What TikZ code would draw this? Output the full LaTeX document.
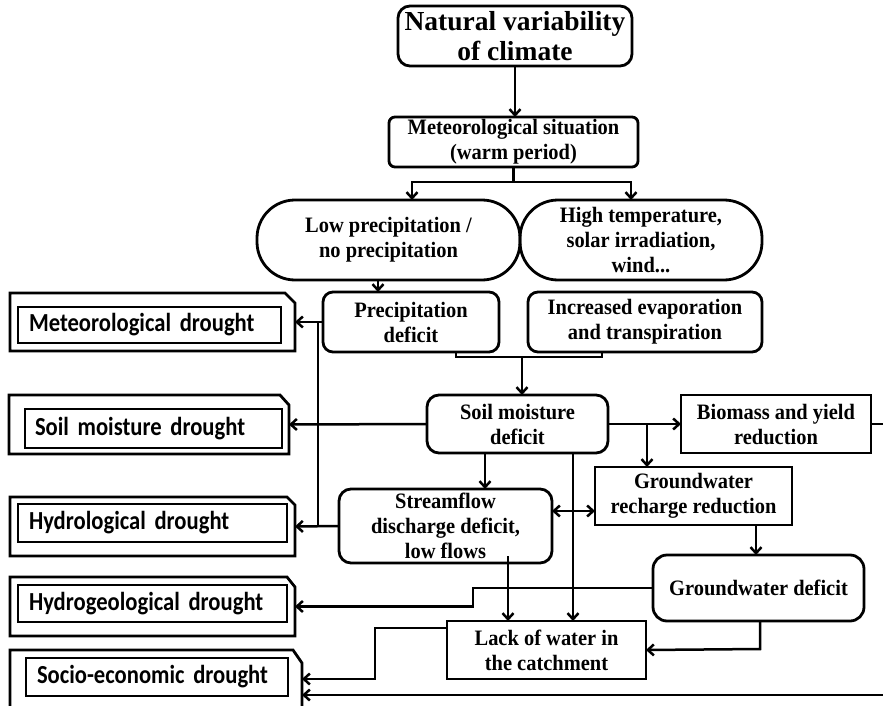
\documentclass[tikz,border=0pt]{standalone}
\usepackage{fontspec}
\setmainfont{Liberation Serif}[FakeStretch=0.93]
\newfontfamily\titlefont{Liberation Serif}
\newfontfamily\carl{Carlito}[FakeStretch=0.87, WordSpace=0.75]
\usetikzlibrary{arrows.meta}
\begin{document}
\begin{tikzpicture}[x=1pt,y=-1pt,
  every node/.style={inner sep=0pt, outer sep=0pt},
  bx/.style={draw, line width=2.8pt, align=center, font=\bfseries\fontsize{22}{25}\selectfont},
  ln/.style={line width=2.5pt},
  arr/.style={ln, -{Straight Barb[length=6pt,width=11pt]}},
  darr/.style={ln, {Straight Barb[length=6pt,width=11pt]}-{Straight Barb[length=6pt,width=11pt]}},
  obox/.style={line width=2.8pt},
  ibox/.style={draw, line width=1.4pt, align=left, inner xsep=11pt, font=\carl\bfseries\fontsize{26}{28}\selectfont}
]
\useasboundingbox (0,0) rectangle (883,706);
\clip (0,0) rectangle (883,706);

% main nodes
\node[bx, rounded corners=12pt, minimum width=234, minimum height=60, font=\titlefont\bfseries\fontsize{27.5}{30}\selectfont] (nat) at (515,36) {Natural variability\\of climate};
\node[bx, rounded corners=6pt, minimum width=249, minimum height=50] (met) at (513.5,142) {Meteorological situation\\(warm period)};
\node[bx, rounded corners=38pt, minimum width=263, minimum height=80] (low) at (388.5,240) {Low precipitation /\\no precipitation};
\node[bx, rounded corners=38pt, minimum width=242, minimum height=80] (high) at (641,240) {High temperature,\\solar irradiation,\\wind...};
\node[bx, rounded corners=10pt, minimum width=176, minimum height=60] (pre) at (411,322) {Precipitation\\deficit};
\node[bx, rounded corners=10pt, minimum width=234, minimum height=60] (eva) at (645,322) {Increased evaporation\\and transpiration};
\node[bx, rounded corners=12pt, minimum width=181, minimum height=58] (soil) at (517.5,424) {Soil moisture\\deficit};
\node[bx, minimum width=190, minimum height=58] (bio) at (776,424) {Biomass and yield\\reduction};
\node[bx, minimum width=197, minimum height=58] (gwr) at (693.5,496) {Groundwater\\recharge reduction};
\node[bx, rounded corners=12pt, minimum width=213, minimum height=74] (str) at (445.5,526) {Streamflow\\discharge deficit,\\low flows};
\node[bx, rounded corners=14pt, minimum width=211, minimum height=66] (gwd) at (758.5,588) {Groundwater deficit};
\node[bx, minimum width=199, minimum height=58] (lack) at (546.5,650) {Lack of water in\\the catchment};

% left drought boxes (outer frames)
\node[minimum width=285, minimum height=58] (md) at (152.5,322) {};
\node[minimum width=280, minimum height=59] (sd) at (149,424.5) {};
\node[minimum width=285, minimum height=59] (hd) at (152.5,526.5) {};
\node[minimum width=285, minimum height=59] (hgd) at (152.5,606.5) {};
\node[minimum width=292, minimum height=70] (se) at (156,685) {};
\foreach \n/\c/\v in {md/10/10, sd/9/10, hd/8/8, hgd/8/10, se/9/13}{
  \draw[obox] (\n.south west) -- (\n.north west) -- ([xshift=-\c pt]\n.north east)
     -- ([yshift=-\v pt]\n.north east) -- (\n.south east) -- cycle;
}
\node[ibox, minimum width=263, minimum height=36, text width=241] (mdi) at (149.5,325) {Meteorological drought};
\node[ibox, minimum width=257, minimum height=39, text width=237, inner xsep=10pt] (sdi) at (153.5,428.5) {Soil moisture drought};
\node[ibox, minimum width=269, minimum height=38, text width=247] (hdi) at (152.5,523) {Hydrological drought};
\node[ibox, minimum width=269, minimum height=37, text width=247] (hgdi) at (152.5,603.5) {Hydrogeological drought};
\node[ibox, minimum width=262, minimum height=38, text width=240] (sei) at (157,677) {Socio-economic drought};

% coordinates
\coordinate (jM) at (513.5,182);
\coordinate (aL) at (412,182);
\coordinate (aR) at (631,182);
\coordinate (x378) at (378,0);
\coordinate (b1) at (456,357);
\coordinate (b2) at (602,357);
\coordinate (b3) at (522,357);
\coordinate (jL) at (318,322);
\coordinate (jB) at (647,424);
\coordinate (rE1) at (883,424);
\coordinate (x485) at (485,0);
\coordinate (x573) at (573,0);
\coordinate (yD) at (0,511);
\coordinate (sIn) at (508,556);
\coordinate (x756) at (756,0);
\coordinate (x760) at (760,649);
\coordinate (jG) at (473,606.5);
\coordinate (jS1) at (375,628);
\coordinate (jS2) at (375,679);
\coordinate (rE2) at (883,695);

% connectors
\draw[arr] (nat.south) -- (nat.south |- met.north);
\draw[ln] (met.south) -- (jM);
\draw[arr] (jM) -- (aL) -- (aL |- low.north);
\draw[arr] (jM) -- (aR) -- (aR |- high.north);
\draw[arr] (x378 |- low.south) -- (x378 |- pre.north);
\draw[ln] (b1 |- pre.south) -- (b1) -- (b2) -- (b2 |- eva.south);
\draw[arr] (b3) -- (b3 |- soil.north);
\draw[arr] (pre.west) -- (md.east);
\draw[ln] (jL) -- (jL |- hd.east);
\draw[arr] (str.west) -- (hd.east);
\draw[arr] (soil.west) -- (sd.east);
\draw[arr] (soil.east) -- (bio.west);
\draw[arr] (jB) -- (jB |- gwr.north);
\draw[ln] (bio.east) -- (rE1);
\draw[arr] (x485 |- soil.south) -- (x485 |- str.north);
\draw[darr] (str.east |- yD) -- (gwr.west |- yD);
\draw[arr] (x573 |- soil.south) -- (x573 |- lack.north);
\draw[arr] (sIn) -- (sIn |- lack.north);
\draw[arr] (x756 |- gwr.south) -- (x756 |- gwd.north);
\draw[arr] (gwd.west) -| (jG) -- (hgd.east);
\draw[arr] (x760 |- gwd.south) -- (x760) -- (lack.east);
\draw[arr] (lack.west |- jS1) -- (jS1) -- (jS2) -- (se.east |- jS2);
\draw[arr] (rE2) -- (se.east |- rE2);
\end{tikzpicture}
\end{document}
